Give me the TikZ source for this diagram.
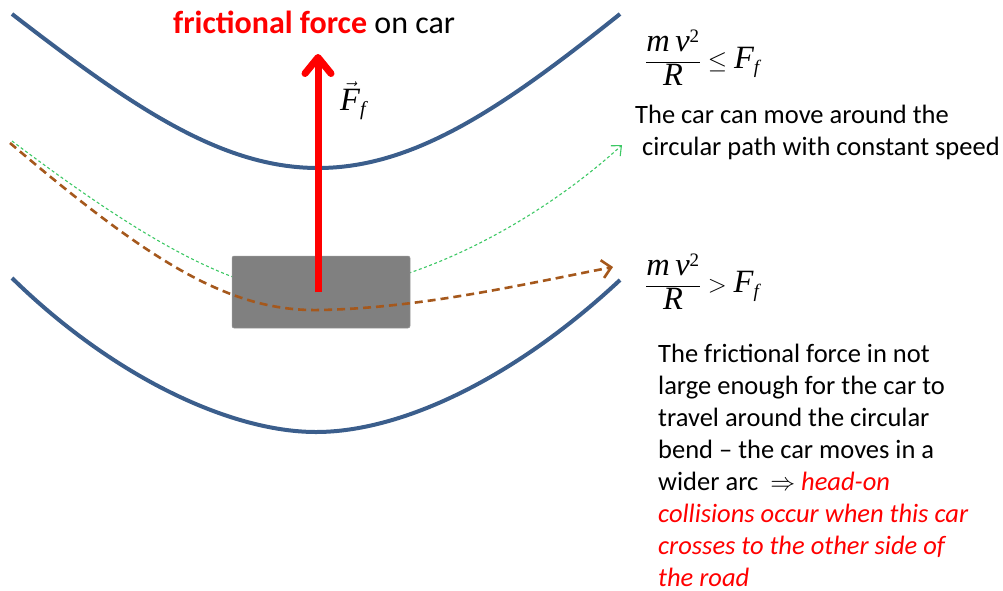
\documentclass[tikz,border=0pt]{standalone}
\usepackage{fontspec}
\setmainfont{Carlito}
\newfontfamily\tnr{Liberation Serif}
\usetikzlibrary{arrows.meta}
\definecolor{road}{RGB}{59,94,140}
\definecolor{brownpath}{RGB}{165,88,28}
\definecolor{greenpath}{RGB}{60,200,100}
\definecolor{cargray}{RGB}{128,128,128}
\tikzset{
  roadline/.style={draw=road, line width=4pt},
  greendash/.style={draw=greenpath, line width=1.1pt, dash pattern=on 3pt off 2.5pt, -{Straight Barb[length=8pt,width=14pt,line width=1.1pt]}},
  browndash/.style={draw=brownpath, line width=2.6pt, dash pattern=on 8pt off 5pt, -{Straight Barb[length=9pt,width=18pt,line width=2.6pt]}},
  forcearrow/.style={draw=red, line width=7pt, -{Straight Barb[length=16pt,width=26pt,line width=7pt,round]}},
  carbox/.style={fill=cargray, draw=cargray!80, line width=0.5pt, rounded corners=2pt, minimum width=178pt, minimum height=72pt, inner sep=0pt},
  txt/.style={inner sep=0pt, font=\fontsize{26.5}{32}\selectfont, align=left},
  formula/.style={inner sep=0pt, font=\tnr\fontsize{32.5}{34}\selectfont}
}
\begin{document}
\begin{tikzpicture}[x=1pt,y=-1pt]
\useasboundingbox (0,0) rectangle (1003,590);
% roads
\draw[roadline] (12,14) .. controls (130,105) and (220,168) .. (318,168) .. controls (416,168) and (506,105) .. (620,14);
\draw[roadline] (12,278) .. controls (112,376) and (230,432) .. (316,432) .. controls (402,432) and (515,378) .. (620,280);
% green path (behind car)
\coordinate (gs) at (12,141);
\coordinate (ge) at (622,145);
\draw[greendash] (gs) .. controls (130,230) and (240,300) .. (320,292) .. controls (420,285) and (540,220) .. (ge);
% car
\node[carbox] (car) at (321,292) {};
% brown path
\coordinate (bs) at (10,143);
\coordinate (be) at (613,267);
\draw[browndash] (bs) .. controls (150,262) and (230,312) .. (320,310) .. controls (420,308) and (520,285) .. (be);
% force arrow
\coordinate (tip) at (318,54);
\draw[forcearrow] (318,292) -- (tip);
% labels
\node[inner sep=0pt, anchor=base west, font=\fontsize{32}{36}\selectfont] (title) at (173,33) {\textcolor{red}{\bfseries frictional force} on car};
\node[formula, anchor=base west] (ff) at (340,110) {$\vec{\mbox{\itshape F}}_{\mbox{\itshape\fontsize{20}{20}\selectfont f}}$};
\node[formula, anchor=west] (eq1) at (645,58) {$\displaystyle\frac{\mbox{\itshape m\,v}^{\mbox{\fontsize{19}{19}\selectfont 2}}}{\mbox{\itshape R}}\le \mbox{\itshape F}_{\mbox{\itshape\fontsize{19}{19}\selectfont f}}$};
\node[txt, anchor=base west] (t1a) at (635,123) {The car can move around the};
\node[txt, anchor=base west] (t1b) at (642,155) {circular path with constant speed};
\node[formula, anchor=west] (eq2) at (645,282) {$\displaystyle\frac{\mbox{\itshape m\,v}^{\mbox{\fontsize{19}{19}\selectfont 2}}}{\mbox{\itshape R}}> \mbox{\itshape F}_{\mbox{\itshape\fontsize{19}{19}\selectfont f}}$};
\node[txt, anchor=north west] (t2) at (658,344) {The frictional force in not\\
large enough for the car to\\
travel around the circular\\
bend -- the car moves in a\\
wider arc \ $\Rightarrow$ \textcolor{red}{\itshape head-on}\\
\textcolor{red}{\itshape collisions occur when this car}\\
\textcolor{red}{\itshape crosses to the other side of}\\
\textcolor{red}{\itshape the road}};
\end{tikzpicture}
\end{document}
